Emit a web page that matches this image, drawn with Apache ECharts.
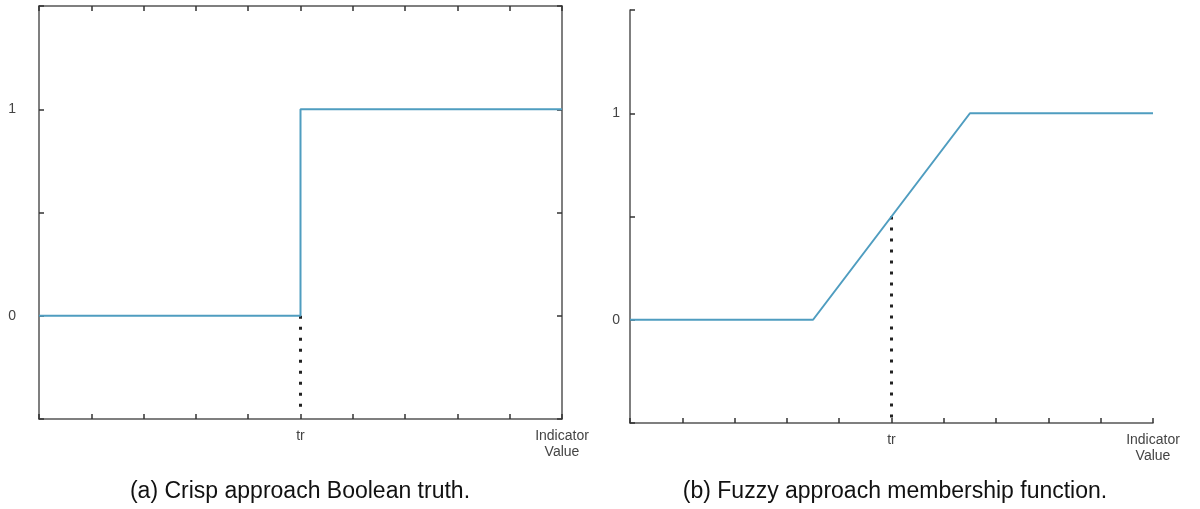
<!DOCTYPE html>
<html>
<head>
<meta charset="utf-8">
<script src="https://cdn.jsdelivr.net/npm/echarts@6/dist/echarts.min.js"></script>
<style>
  html, body { margin: 0; padding: 0; background: #fff; }
  #main { width: 1200px; height: 509px; }
</style>
</head>
<body>
<div id="main"></div>
<script>
// crisp (a): step at tr
const crispX = [0, 5, 5, 10];
const crispY = [0, 0, 1, 1];
// fuzzy (b): ramp between 3.5 and 6.5
const fuzzyX = [0, 3.5, 6.5, 10];
const fuzzyY = [0, 0, 1, 1];
// threshold tr and the dotted drop lines
const trValue = 5;
const crispDropY = [0, -0.45];
const fuzzyDropY = [0.5, -0.5];
// tick labels
const xTickLabels = { 5: 'tr', 10: 'Indicator\nValue' };
const yTickLabels = { 0: '0', 1: '1' };
const captions = ['(a) Crisp approach Boolean truth.', '(b) Fuzzy approach membership function.'];

const font = 'Liberation Sans, Arial, sans-serif';
const axisColor = '#555';
const lineColor = '#4f9dc0';

const pairs = (xs, ys) => xs.map((x, i) => [x, ys[i]]);

const baseTick = { show: true, inside: true, length: 5, lineStyle: { color: '#333', width: 1.5 } };
const baseLine = { show: true, onZero: false, lineStyle: { color: axisColor, width: 1.5 } };

function xAx(grid, pos, showLabel) {
  return {
    type: 'value', gridIndex: grid, position: pos,
    min: 0, max: 10, interval: 1,
    axisLine: baseLine, axisTick: baseTick, splitLine: { show: false },
    axisLabel: {
      show: showLabel, margin: 9, color: '#444', fontFamily: font, fontSize: 14, lineHeight: 16,
      verticalAlign: 'top',
      formatter: (v) => xTickLabels[v] || ''
    }
  };
}
function yAx(grid, pos, showLabel, margin) {
  return {
    type: 'value', gridIndex: grid, position: pos,
    min: -0.5, max: 1.5, interval: 0.5,
    axisLine: baseLine, axisTick: baseTick, splitLine: { show: false },
    axisLabel: {
      show: showLabel, margin: margin, color: '#444', fontFamily: font, fontSize: 14,
      formatter: (v) => yTickLabels[v] || ''
    }
  };
}

const chart = echarts.init(document.getElementById('main'));
const option = {
  backgroundColor: '#fff',
  animation: false,
  title: [
    { text: captions[0], left: 295, top: 475, textAlign: 'center',
      textStyle: { fontFamily: font, fontSize: 23, fontWeight: 'normal', color: '#111' } },
    { text: captions[1], left: 890, top: 475, textAlign: 'center',
      textStyle: { fontFamily: font, fontSize: 23, fontWeight: 'normal', color: '#111' } }
  ],
  grid: [
    { left: 39, right: 638, top: 6, bottom: 90 },
    { left: 630, right: 47, top: 10, bottom: 86 }
  ],
  xAxis: [
    xAx(0, 'bottom', true),
    xAx(0, 'top', false),
    xAx(1, 'bottom', true)
  ],
  yAxis: [
    yAx(0, 'left', true, 23),
    yAx(0, 'right', false, 8),
    yAx(1, 'left', true, 10)
  ],
  series: [
    {
      type: 'line', xAxisIndex: 0, yAxisIndex: 0, symbol: 'none',
      lineStyle: { color: '#222', width: 3, type: [3, 8] },
      data: crispDropY.map((y) => [trValue, y])
    },
    {
      type: 'line', xAxisIndex: 0, yAxisIndex: 0, symbol: 'none',
      lineStyle: { color: lineColor, width: 2 },
      data: pairs(crispX, crispY)
    },
    {
      type: 'line', xAxisIndex: 2, yAxisIndex: 2, symbol: 'none',
      lineStyle: { color: '#222', width: 3, type: [3, 8] },
      data: fuzzyDropY.map((y) => [trValue, y])
    },
    {
      type: 'line', xAxisIndex: 2, yAxisIndex: 2, symbol: 'none',
      lineStyle: { color: lineColor, width: 2 },
      data: pairs(fuzzyX, fuzzyY)
    }
  ]
};
chart.setOption(option);
</script>
</body>
</html>
